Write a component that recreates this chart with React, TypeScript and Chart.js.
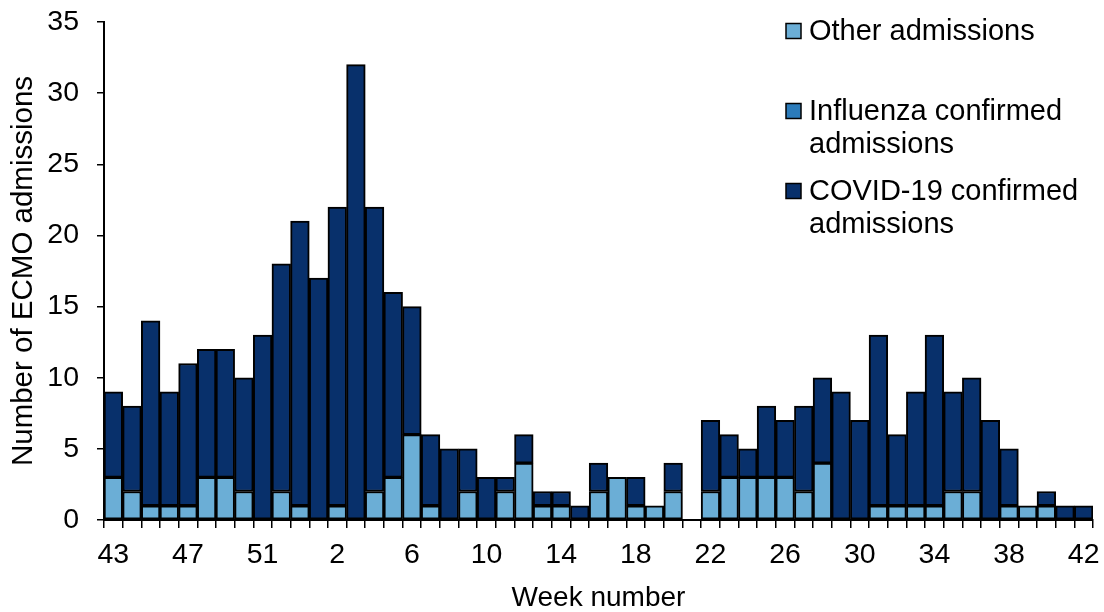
import React, { useEffect, useRef } from "react";
import { Chart, registerables } from "chart.js";

Chart.register(...registerables);

const weeks: string[] = [
  "43", "44", "45", "46", "47", "48", "49", "50", "51", "52", "53",
  "1", "2", "3", "4", "5", "6", "7", "8", "9", "10",
  "11", "12", "13", "14", "15", "16", "17", "18", "19", "20",
  "21", "22", "23", "24", "25", "26", "27", "28", "29", "30",
  "31", "32", "33", "34", "35", "36", "37", "38", "39", "40",
  "41", "42",
];

const otherAdmissions: number[] = [
  3, 2, 1, 1, 1, 3, 3, 2, 0, 2, 1,
  0, 1, 0, 2, 3, 6, 1, 0, 2, 0,
  2, 4, 1, 1, 0, 2, 3, 1, 1, 2,
  0, 2, 3, 3, 3, 3, 2, 4, 0, 0,
  1, 1, 1, 1, 2, 2, 0, 1, 1, 1,
  0, 0,
];

const influenzaAdmissions: number[] = [
  0, 0, 0, 0, 0, 0, 0, 0, 0, 0, 0,
  0, 0, 0, 0, 0, 0, 0, 0, 0, 0,
  0, 0, 0, 0, 0, 0, 0, 0, 0, 0,
  0, 0, 0, 0, 0, 0, 0, 0, 0, 0,
  0, 0, 0, 0, 0, 0, 0, 0, 0, 0,
  0, 0,
];

const covidAdmissions: number[] = [
  6, 6, 13, 8, 10, 9, 9, 8, 13, 16, 20,
  17, 21, 32, 20, 13, 9, 5, 5, 3, 3,
  1, 2, 1, 1, 1, 2, 0, 2, 0, 2,
  0, 5, 3, 2, 5, 4, 6, 6, 9, 7,
  12, 5, 8, 12, 7, 8, 7, 4, 0, 1,
  1, 1,
];

const yTicks: number[] = [0, 5, 10, 15, 20, 25, 30, 35];

const legendLines: string[][] = [
  ["Other admissions"],
  ["Influenza confirmed", "admissions"],
  ["COVID-19 confirmed", "admissions"],
];

const FONT = "'Liberation Sans', Arial, sans-serif";

const legendPlugin = {
  id: "customLegend",
  afterDraw(chart: any) {
    const ctx = chart.ctx;
    const ds = chart.data.datasets;
    const rowY = [31, 111, 191];
    const lineGap = 33;
    ctx.save();
    ctx.font = `29px ${FONT}`;
    ctx.textBaseline = "middle";
    ctx.textAlign = "left";
    legendLines.forEach((lines, i) => {
      const y0 = rowY[i];
      ctx.fillStyle = ds[i].backgroundColor;
      ctx.fillRect(786, y0 - 7.5, 15, 15);
      ctx.strokeStyle = "#000";
      ctx.lineWidth = 1.5;
      ctx.strokeRect(786, y0 - 7.5, 15, 15);
      ctx.fillStyle = "#000";
      lines.forEach((t, j) => {
        ctx.fillText(t, 809, y0 + j * lineGap + 1);
      });
    });
    ctx.restore();
  },
};

export default function App() {
  const ref = useRef<HTMLCanvasElement | null>(null);

  useEffect(() => {
    if (!ref.current) return;
    const chart = new Chart(ref.current, {
      type: "bar",
      data: {
        labels: weeks,
        datasets: [
          {
            label: "Other admissions",
            data: otherAdmissions,
            backgroundColor: "#6baed6",
            borderColor: "#000",
            borderWidth: 2,
            borderSkipped: false,
          },
          {
            label: "Influenza confirmed admissions",
            data: influenzaAdmissions,
            backgroundColor: "#2b7bba",
            borderColor: "#000",
            borderWidth: 2,
            borderSkipped: false,
          },
          {
            label: "COVID-19 confirmed admissions",
            data: covidAdmissions,
            backgroundColor: "#08306b",
            borderColor: "#000",
            borderWidth: 2,
            borderSkipped: false,
          },
        ],
      },
      options: {
        responsive: false,
        animation: false,
        devicePixelRatio: 1,
        datasets: { bar: { barPercentage: 1, categoryPercentage: 1 } },
        layout: { padding: { top: 22, right: 11, left: 0, bottom: 0 } },
        plugins: {
          legend: { display: false },
          tooltip: { enabled: false },
        },
        scales: {
          x: {
            stacked: true,
            offset: true,
            grid: {
              display: true,
              drawOnChartArea: false,
              drawTicks: true,
              tickLength: 8,
              color: "#000",
              lineWidth: 1.5,
              offset: true,
            },
            border: { display: true, color: "#000", width: 2 },
            ticks: {
              autoSkip: false,
              maxRotation: 0,
              minRotation: 0,
              padding: 10,
              color: "#000",
              font: { size: 28.5, family: FONT },
              callback: (_v: any, i: number) => (i % 4 === 0 ? weeks[i] : ""),
            },
            title: {
              display: true,
              text: "Week number",
              color: "#000",
              font: { size: 28, family: FONT, lineHeight: 1 },
              padding: { top: 0, bottom: 0 },
            },
            afterFit: (s: any) => {
              s.height = 92;
              s.paddingLeft = 0;
              s.paddingRight = 0;
            },
          },
          y: {
            stacked: true,
            min: 0,
            max: 35,
            afterBuildTicks: (s: any) => {
              s.ticks = yTicks.map((v) => ({ value: v }));
            },
            grid: {
              display: true,
              drawOnChartArea: false,
              drawTicks: true,
              tickLength: 7,
              color: "#000",
              lineWidth: 1.5,
            },
            border: { display: true, color: "#000", width: 2 },
            ticks: {
              padding: 18,
              color: "#000",
              font: { size: 28.5, family: FONT },
            },
            title: {
              display: true,
              text: "Number of ECMO admissions",
              color: "#000",
              font: { size: 29.5, family: FONT, lineHeight: 1 },
              padding: { top: 9, bottom: 0 },
            },
            afterFit: (s: any) => {
              s.width = 104;
              s.paddingTop = 0;
              s.paddingBottom = 0;
            },
          },
        },
      },
      plugins: [legendPlugin],
    } as any);
    return () => chart.destroy();
  }, []);

  return (
    <div style={{ position: "absolute", left: 0, top: 0, width: 1104, height: 612, background: "#fff" }}>
      <canvas ref={ref} width={1104} height={612} style={{ display: "block" }} />
    </div>
  );
}
